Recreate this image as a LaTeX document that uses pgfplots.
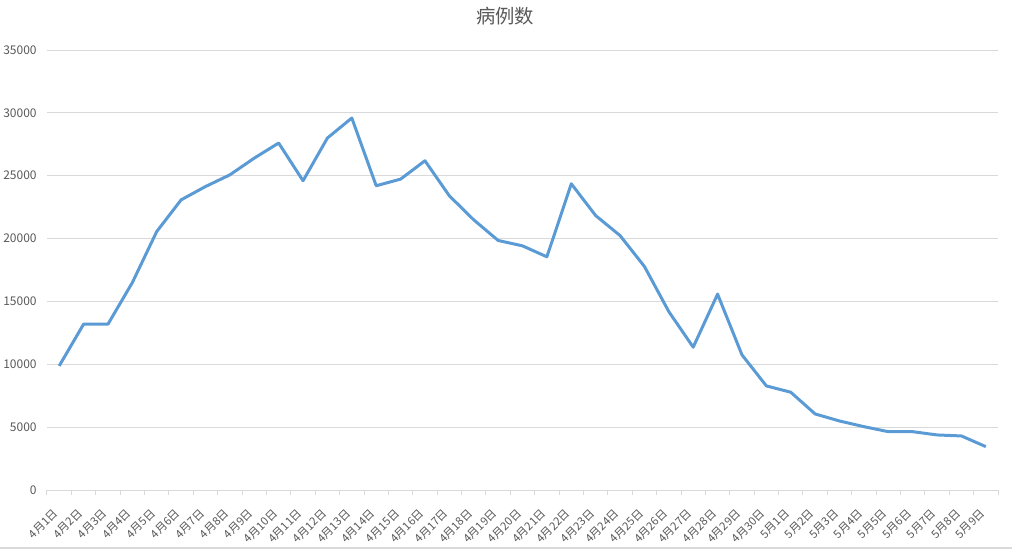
\documentclass[border=0pt]{standalone}
\usepackage{fontspec}
\setmainfont{Noto Sans CJK SC}
\usepackage{pgfplots}
\pgfplotsset{compat=1.18}
\definecolor{linec}{HTML}{5B9BD5}
\definecolor{gridc}{HTML}{D9D9D9}
\definecolor{txtc}{HTML}{595959}

\begin{document}
\begin{tikzpicture}
\begin{axis}[name=ax, scale only axis, width=713.25pt, height=330pt,
  xmin=-0.5, xmax=38.5, ymin=0, ymax=35000,
  ytick={0,5000,...,35000},
  ymajorgrids, grid style={gridc, line width=0.75pt},
  axis x line*=bottom, axis y line*=left,
  x axis line style={gridc, line width=0.75pt, -},
  y axis line style={draw=none},
  ytick style={draw=none},
  xtick={0,...,38},
  xticklabels={4月1日,4月2日,4月3日,4月4日,4月5日,4月6日,4月7日,4月8日,4月9日,4月10日,
    4月11日,4月12日,4月13日,4月14日,4月15日,4月16日,4月17日,4月18日,4月19日,4月20日,
    4月21日,4月22日,4月23日,4月24日,4月25日,4月26日,4月27日,4月28日,4月29日,4月30日,
    5月1日,5月2日,5月3日,5月4日,5月5日,5月6日,5月7日,5月8日,5月9日},
  major x tick style={draw=none},
  minor xtick={-0.5,0.5,...,38.5},
  minor x tick style={gridc, line width=0.75pt},
  minor tick length=3.75pt, tick align=outside,
  xticklabel style={xshift=-5pt, yshift=-9pt, rotate=45, anchor=north east, inner sep=0pt,
    font=\fontsize{8.5}{9}\selectfont, text=txtc},
  yticklabel style={font=\fontsize{9}{10}\selectfont, text=txtc,
    /pgf/number format/fixed, /pgf/number format/1000 sep={}},
  scaled y ticks=false,
  /pgf/number format/assume math mode=true,
  title=病例数,
  title style={at={(0.5,1)}, anchor=center, yshift=19.5pt, xshift=-13pt,
    font=\fontsize{14.5}{16}\selectfont, text=txtc},
]
\addplot[linec, line width=2.25pt, line join=round, mark=none] coordinates {
  (0,9870) (1,13190) (2,13190) (3,16500) (4,20560) (5,23080) (6,24140) (7,25070)
  (8,26400) (9,27600) (10,24600) (11,28000) (12,29590) (13,24200) (14,24730)
  (15,26190) (16,23400) (17,21490) (18,19850) (19,19420) (20,18550) (21,24360)
  (22,21830) (23,20240) (24,17780) (25,14190) (26,11360) (27,15580) (28,10750)
  (29,8280) (30,7780) (31,6050) (32,5490) (33,5040) (34,4640) (35,4640)
  (36,4380) (37,4300) (38,3450)
};
\end{axis}
\draw[gridc, line width=1pt] ([xshift=-35.25pt,yshift=-43.5pt]ax.south west) -- ([xshift=10.5pt,yshift=-43.5pt]ax.south east);
\pgfresetboundingbox
\path ([xshift=-35.25pt,yshift=-45.75pt]ax.south west) rectangle ([xshift=10.5pt,yshift=37.5pt]ax.north east);
\end{tikzpicture}
\end{document}
